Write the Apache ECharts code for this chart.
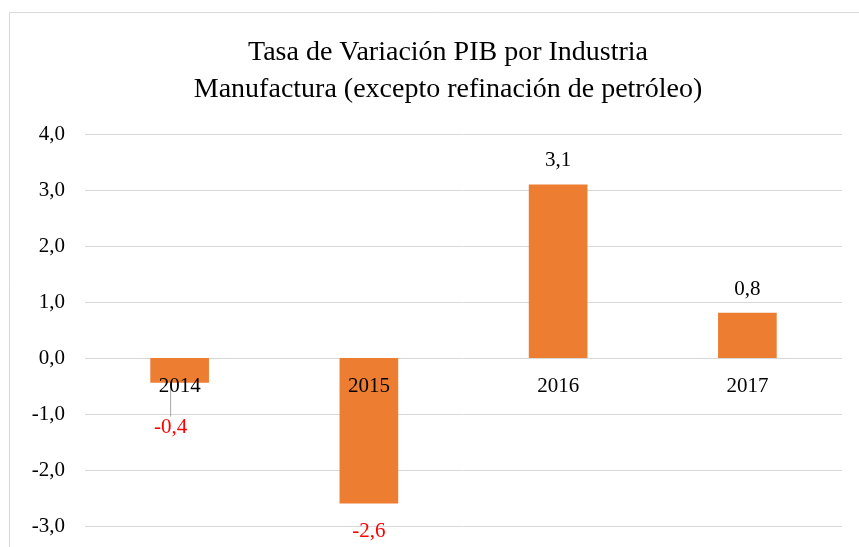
<!DOCTYPE html>
<html><head><meta charset="utf-8">
<script src="https://cdn.jsdelivr.net/npm/echarts@6/dist/echarts.min.js"></script>
<style>html,body{margin:0;padding:0;background:#fff;overflow:hidden}#c{width:859px;height:547px}</style>
</head><body><div id="c"></div>
<script>
const titleLines = ['Tasa de Variación PIB por Industria', 'Manufactura (excepto refinación de petróleo)'];
const categories = ['2014', '2015', '2016', '2017'];
const values = [-0.44, -2.6, 3.1, 0.81];
const yTicks = [-3, -2, -1, 0, 1, 2, 3, 4];

const FONT = '"Liberation Serif", "Times New Roman", serif';
const fmt = v => v.toFixed(1).replace('.', ',');

const chart = echarts.init(document.getElementById('c'), null, {renderer: 'canvas'});
chart.setOption({
  animation: false,
  backgroundColor: '#fff',
  graphic: [{
    type: 'rect', silent: true, z: -10,
    shape: {x: 9.5, y: 12.5, width: 900, height: 600},
    style: {fill: 'none', stroke: '#d9d9d9', lineWidth: 1}
  }],
  title: {
    text: titleLines.join('\n'),
    left: 443, top: 29, textAlign: 'center',
    textStyle: {fontFamily: FONT, fontSize: 28, fontWeight: 'normal', color: '#000', lineHeight: 37}
  },
  grid: {left: 85, right: 17, top: 134, bottom: 21, containLabel: false, outerBoundsMode: 'none'},
  xAxis: {
    type: 'category', data: categories,
    axisLine: {show: false},
    axisTick: {show: false},
    axisLabel: {show: false}
  },
  yAxis: {
    type: 'value', min: yTicks[0], max: yTicks[yTicks.length - 1], interval: 1,
    axisLine: {show: false}, axisTick: {show: false},
    splitLine: {lineStyle: {color: '#d9d9d9', width: 1}},
    axisLabel: {fontFamily: FONT, fontSize: 21, color: '#000', margin: 20, formatter: v => fmt(v)}
  },
  series: [{
    type: 'bar', barWidth: '31%',
    itemStyle: {color: '#ED7D31'},
    data: values.map((v, i) => {
      const item = v < 0
        ? {value: v, label: {position: 'bottom', color: '#ff0000', distance: 17}}
        : {value: v, label: {position: 'top', color: '#000', distance: 13}};
      if (i === 0) item.labelLine = {show: true, lineStyle: {color: '#a6a6a6', width: 1}};
      return item;
    }),
    label: {
      show: true, fontFamily: FONT, fontSize: 21,
      formatter: p => fmt(p.value)
    },
    labelLayout: p => p.dataIndex === 0 ? {dx: -9, dy: 17} : {},
    labelLine: {show: false}
  }, {
    // category labels sitting on the zero line, as in the reference
    type: 'scatter', symbolSize: 0, z: 5, silent: true,
    itemStyle: {opacity: 1},
    data: categories.map(c => [c, 0]),
    label: {
      show: true, position: 'bottom', distance: 18,
      fontFamily: FONT, fontSize: 21, color: '#000', opacity: 1,
      formatter: p => p.value[0]
    }
  }]
});
</script></body></html>
